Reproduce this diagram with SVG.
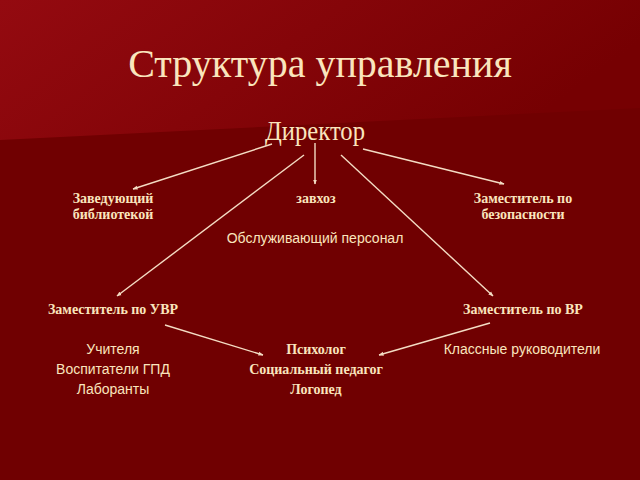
<svg xmlns="http://www.w3.org/2000/svg" width="640" height="480" viewBox="0 0 640 480">
<defs>
<linearGradient id="bg" x1="0" y1="0" x2="1" y2="0.3">
<stop offset="0" stop-color="#940a10"/>
<stop offset="1" stop-color="#760002"/>
</linearGradient>
<marker id="ah" viewBox="0 0 10 10" refX="9" refY="5" markerWidth="5" markerHeight="5" orient="auto" markerUnits="userSpaceOnUse">
<path d="M0,1 L10,5 L0,9 z" fill="#f4dcc4"/>
</marker>
<style>
.ser{font-family:"Liberation Serif","Times New Roman",serif;fill:#fae5bd;text-anchor:middle}
.b{font-weight:bold;font-size:14px}
.sans{font-family:"Liberation Sans",Arial,sans-serif;font-size:14px;fill:#fae5bd;text-anchor:middle}
.c line{stroke:#f4dcc4;stroke-width:1.4;marker-end:url(#ah)}
</style>
</defs>
<rect width="640" height="480" fill="#700001"/>
<polygon points="0,0 640,0 640,108 0,140" fill="url(#bg)"/>
<text class="ser" x="320" y="77" font-size="40">Структура управления</text>
<g id="director"><text class="ser" x="315" y="140" font-size="28" textLength="100" lengthAdjust="spacingAndGlyphs">Директор</text></g>
<g id="library"><text class="ser b" x="113" y="203">Заведующий</text><text class="ser b" x="113" y="219">библиотекой</text></g>
<g id="zavhoz"><text class="ser b" x="316" y="203">завхоз</text><text class="sans" x="315" y="243">Обслуживающий персонал</text></g>
<g id="safety"><text class="ser b" x="523" y="203">Заместитель по</text><text class="ser b" x="523" y="219">безопасности</text></g>
<g id="uvr"><text class="ser b" x="113" y="314">Заместитель по УВР</text><text class="sans" x="113" y="354">Учителя</text><text class="sans" x="113" y="374">Воспитатели ГПД</text><text class="sans" x="113" y="394">Лаборанты</text></g>
<g id="psy"><text class="ser b" x="316" y="354">Психолог</text><text class="ser b" x="316" y="374">Социальный педагог</text><text class="ser b" x="316" y="394">Логопед</text></g>
<g id="vr"><text class="ser b" x="523" y="314">Заместитель по ВР</text><text class="sans" x="522" y="354">Классные руководители</text></g>
<g class="c" id="connectors">
<line x1="272" y1="144" x2="133" y2="189"/>
<line x1="315" y1="143" x2="315" y2="184"/>
<line x1="363" y1="149" x2="504" y2="184"/>
<line x1="304" y1="155" x2="117" y2="296"/>
<line x1="341" y1="155" x2="493" y2="296"/>
<line x1="165" y1="325" x2="263" y2="355"/>
<line x1="490" y1="323" x2="379" y2="355"/>
</g>
</svg>
